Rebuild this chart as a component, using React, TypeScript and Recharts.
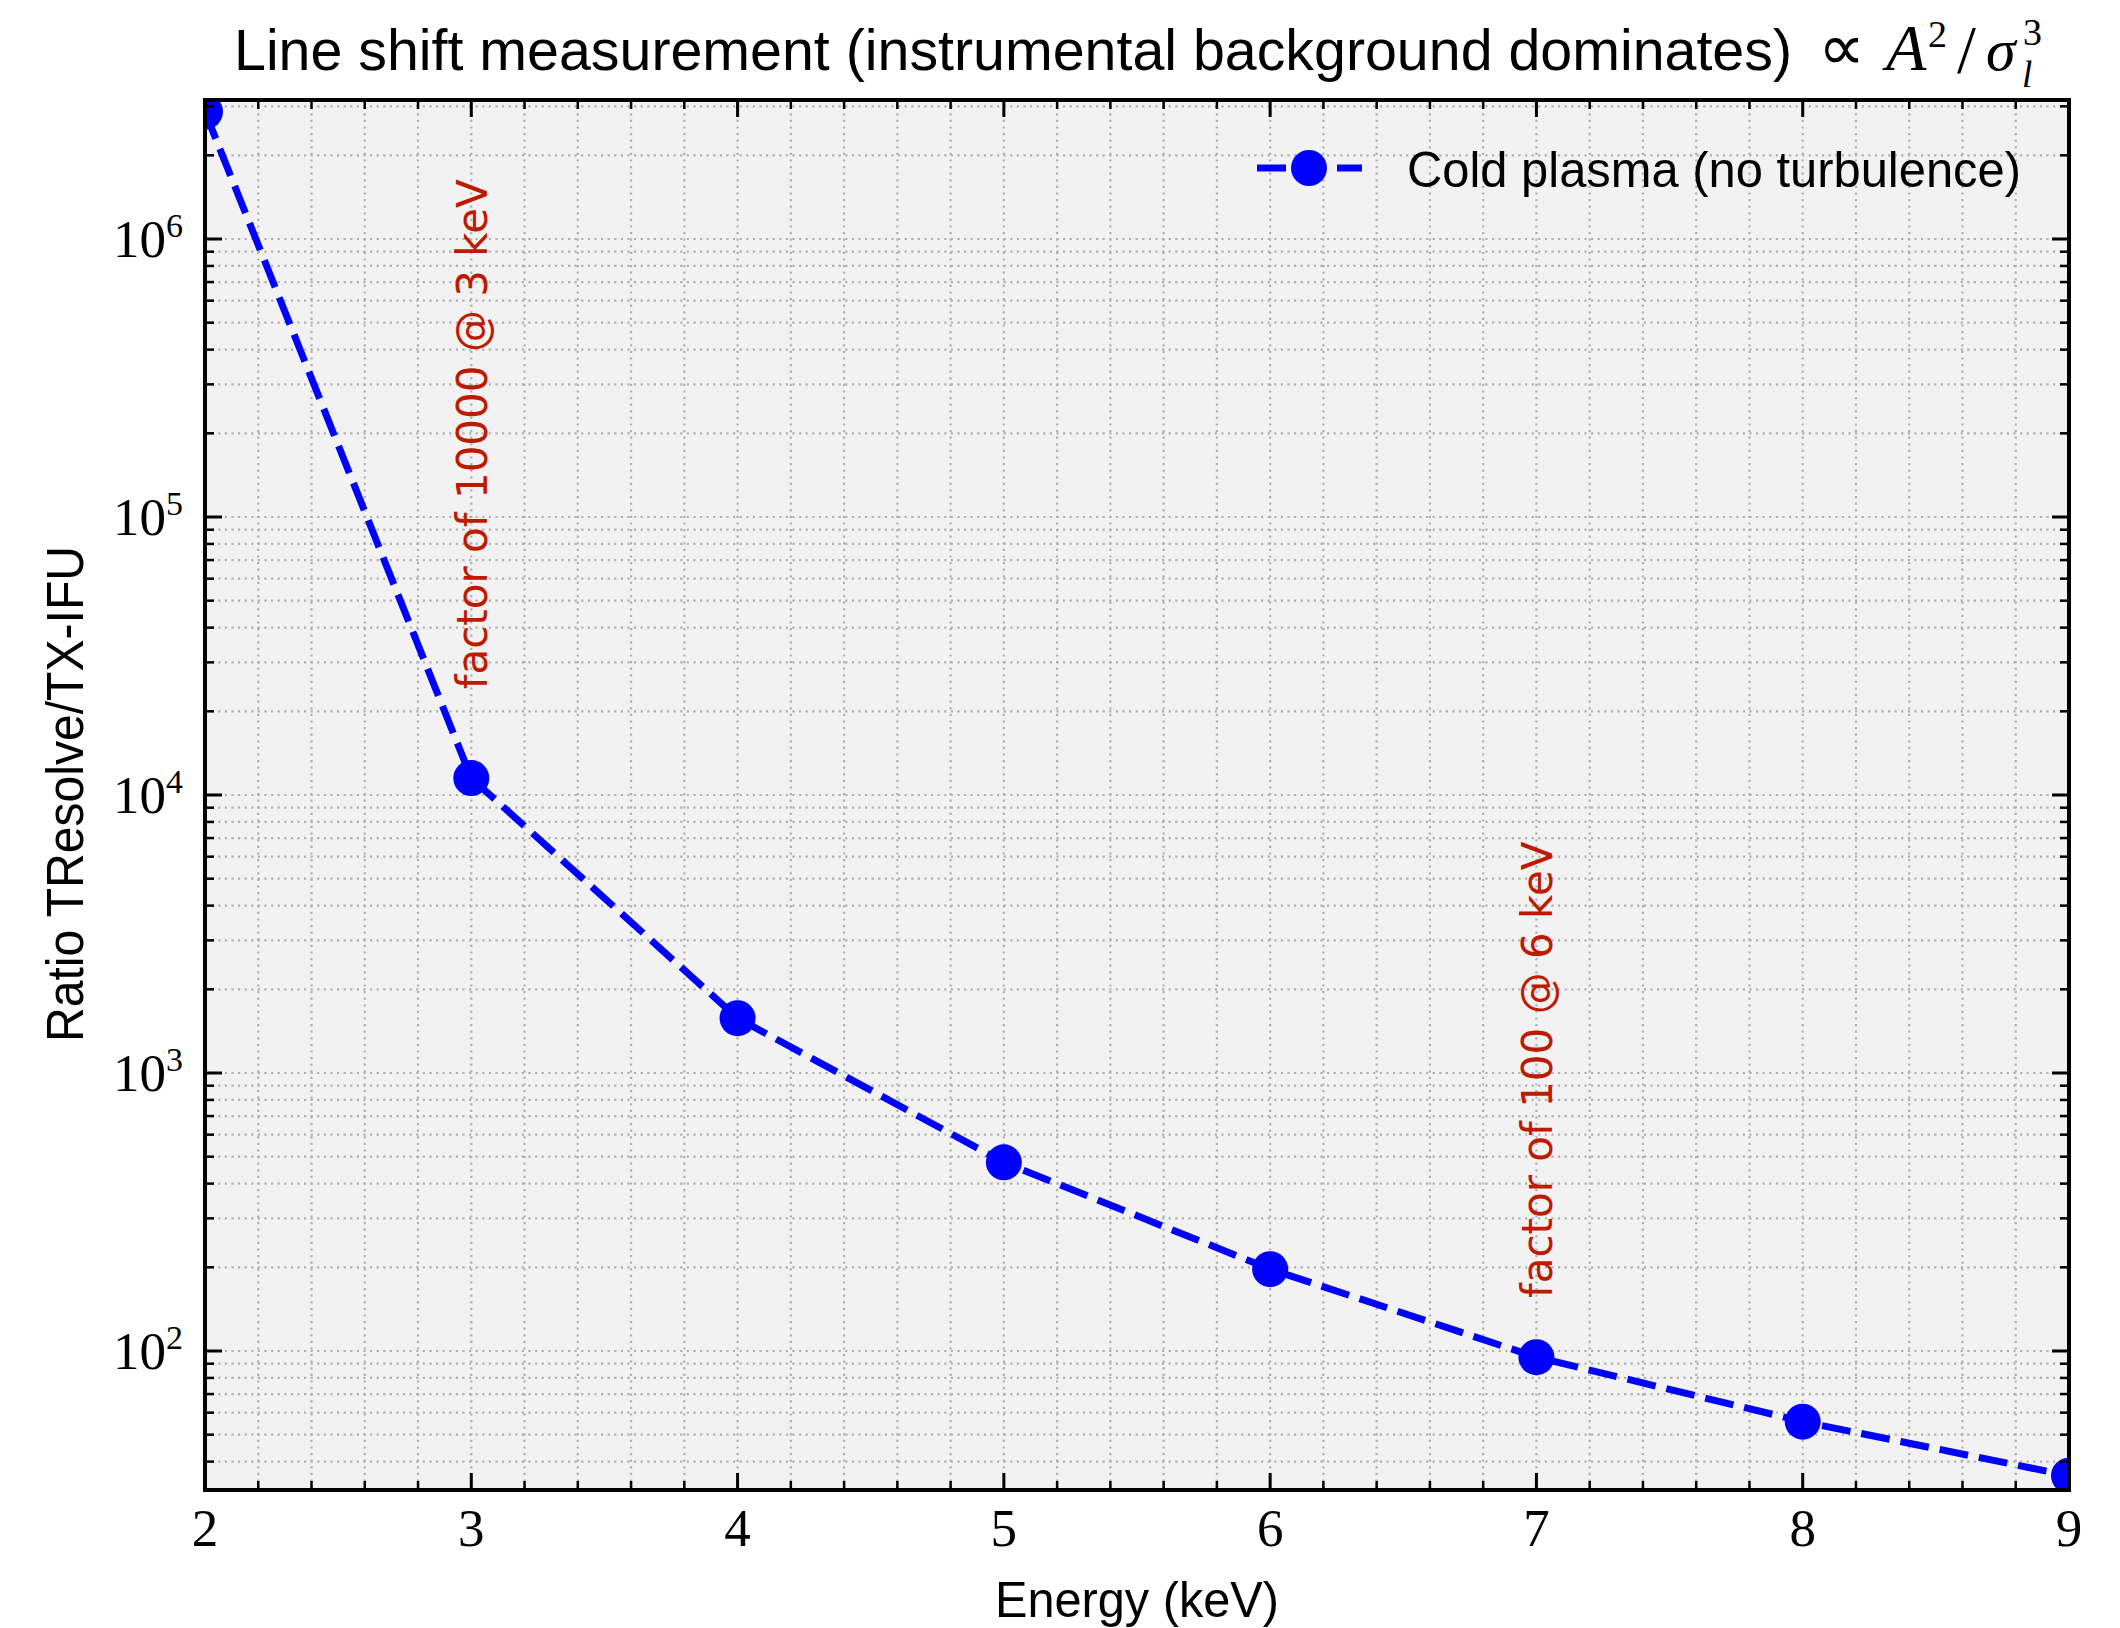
import React from "react"
import { LineChart, Line, XAxis, YAxis, CartesianGrid, Legend, ReferenceDot } from "recharts"

const energies = [2, 3, 4, 5, 6, 7, 8, 9]
const ratios = [2870000, 11500, 1575, 477, 197, 95, 55.7, 35.6]

const xMajorTicks = [2, 3, 4, 5, 6, 7, 8, 9]
const xMinorSteps = [0.2, 0.4, 0.6, 0.8]
const yDecades = [10, 100, 1000, 10000, 100000, 1000000]
const yMinorFactors = [2, 3, 4, 5, 6, 7, 8, 9]
const yDomain = [31.62, 3162278]

const annotations = [
  { x: 3, y: 24000, text: "factor of 10000 @ 3 keV" },
  { x: 7, y: 155, text: "factor of 100 @ 6 keV" },
]

const W = 2120
const H = 1628
const PLOT_LEFT = 205
const PLOT_RIGHT = 2069
const PLOT_TOP = 100
const PLOT_BOTTOM = 1490

const BLUE = "#0000ff"
const RED = "#bf1a00"
const SANS = "Liberation Sans"
const SERIF = "Liberation Serif"

const data = energies.map((e, i) => ({ energy: e, ratio: ratios[i] }))

const xTicks: number[] = []
xMajorTicks.forEach((t) => {
  xTicks.push(t)
  if (t < 9) xMinorSteps.forEach((s) => xTicks.push(Math.round((t + s) * 10) / 10))
})

const yTicks: number[] = []
yDecades.forEach((d) => {
  ;[1, ...yMinorFactors].forEach((f) => {
    const v = d * f
    if (v >= yDomain[0] && v <= yDomain[1]) yTicks.push(v)
  })
})

function XTick(props: any) {
  const { x, payload } = props
  const v = payload.value
  const major = Number.isInteger(v)
  const len = major ? 17 : 9
  const w = major ? 3 : 2.5
  return (
    <g>
      <line x1={x} x2={x} y1={PLOT_BOTTOM} y2={PLOT_BOTTOM - len} stroke="#000" strokeWidth={w} />
      <line x1={x} x2={x} y1={PLOT_TOP} y2={PLOT_TOP + len} stroke="#000" strokeWidth={w} />
      {major && (
        <text x={x} y={PLOT_BOTTOM + 56} textAnchor="middle" fontFamily={SERIF} fontSize={53} fill="#000">
          {v}
        </text>
      )}
    </g>
  )
}

function YTick(props: any) {
  const { y, payload } = props
  const v = payload.value
  const exp = Math.round(Math.log10(v))
  const major = Math.abs(Math.log10(v) - exp) < 1e-6
  const len = major ? 17 : 9
  const w = major ? 3 : 2.5
  return (
    <g>
      <line x1={PLOT_LEFT} x2={PLOT_LEFT + len} y1={y} y2={y} stroke="#000" strokeWidth={w} />
      <line x1={PLOT_RIGHT} x2={PLOT_RIGHT - len} y1={y} y2={y} stroke="#000" strokeWidth={w} />
      {major && (
        <text x={PLOT_LEFT - 22} y={y + 18} textAnchor="end" fontFamily={SERIF} fontSize={53} fill="#000">
          10
          <tspan dy={-20} fontSize={34}>
            {exp}
          </tspan>
        </text>
      )}
    </g>
  )
}

function AnnotationText(text: string) {
  return (props: any) => {
    const bx = props.cx + 16
    const cy = props.cy
    return (
      <text
        x={bx}
        y={cy}
        transform={`rotate(-90 ${bx} ${cy})`}
        fontFamily="DejaVu Sans"
        fontSize={42}
        fill={RED}
      >
        {text}
      </text>
    )
  }
}

function LegendContent() {
  return (
    <svg width={850} height={70}>
      <line x1={17} x2={122} y1={38} y2={38} stroke={BLUE} strokeWidth={7} strokeDasharray="29 11" />
      <circle cx={69} cy={38} r={18} fill={BLUE} />
      <text x={167} y={57} fontFamily={SANS} fontSize={50} textLength={614} lengthAdjust="spacingAndGlyphs" fill="#000">
        Cold plasma (no turbulence)
      </text>
    </svg>
  )
}

export default function App() {
  return (
    <div style={{ position: "relative", width: W, height: H, background: "#fff" }}>
      <style>{"body{margin:0}"}</style>
      <LineChart width={W} height={H} data={data} margin={{ top: PLOT_TOP, right: W - PLOT_RIGHT, bottom: 0, left: 0 }}>
        <CartesianGrid fill="#f2f2f2" stroke="#b0b0b0" strokeWidth={2.2} strokeDasharray="2.2 4.4" />
        <XAxis
          dataKey="energy"
          type="number"
          domain={[2, 9]}
          ticks={xTicks}
          interval={0}
          allowDataOverflow
          height={H - PLOT_BOTTOM}
          axisLine={false}
          tickLine={false}
          tickSize={0}
          tickMargin={0}
          tick={<XTick />}
        />
        <YAxis
          type="number"
          scale="log"
          domain={yDomain}
          ticks={yTicks}
          interval={0}
          allowDataOverflow
          width={PLOT_LEFT}
          axisLine={false}
          tickLine={false}
          tickSize={0}
          tickMargin={0}
          tick={<YTick />}
        />
        <Legend
          layout="horizontal"
          verticalAlign="middle"
          align="center"
          content={<LegendContent />}
          wrapperStyle={{ position: "absolute", left: 1240, top: 130, width: 850, height: 70 }}
        />
        <Line
          type="linear"
          dataKey="ratio"
          name="Cold plasma (no turbulence)"
          stroke={BLUE}
          strokeWidth={7}
          strokeDasharray="29 11"
          dot={{ r: 18, fill: BLUE, stroke: "none", strokeWidth: 0 }}
          activeDot={false}
          isAnimationActive={false}
        />
        {annotations.map((a) => (
          <ReferenceDot key={a.text} x={a.x} y={a.y} r={0} shape={AnnotationText(a.text)} />
        ))}
      </LineChart>
      <svg width={W} height={H} style={{ position: "absolute", left: 0, top: 0, pointerEvents: "none" }}>
        <rect
          x={PLOT_LEFT}
          y={PLOT_TOP}
          width={PLOT_RIGHT - PLOT_LEFT}
          height={PLOT_BOTTOM - PLOT_TOP}
          fill="none"
          stroke="#000"
          strokeWidth={4}
        />
        <text x={234} y={70} fontFamily={SANS} fontSize={57} textLength={1558} lengthAdjust="spacingAndGlyphs" fill="#000">
          Line shift measurement (instrumental background dominates)
        </text>
        <text x={1818} y={70} fontFamily="DejaVu Sans" fontSize={66} fill="#000">
          ∝
        </text>
        <text x={1886} y={70} fontFamily={SERIF} fontStyle="italic" fontSize={66} fill="#000">
          A
        </text>
        <text x={1928} y={47} fontFamily={SERIF} fontSize={38} fill="#000">
          2
        </text>
        <text x={1957} y={72} fontFamily={SERIF} fontSize={68} fill="#000">
          /
        </text>
        <text x={1986} y={70} fontFamily={SERIF} fontStyle="italic" fontSize={60} fill="#000">
          σ
        </text>
        <text x={2023} y={45} fontFamily={SERIF} fontSize={38} fill="#000">
          3
        </text>
        <text x={2022} y={87} fontFamily={SERIF} fontStyle="italic" fontSize={37} fill="#000">
          l
        </text>
        <text
          x={83}
          y={794}
          transform="rotate(-90 83 794)"
          textAnchor="middle"
          fontFamily={SANS}
          fontSize={52}
          textLength={496}
          lengthAdjust="spacingAndGlyphs"
          fill="#000"
        >
          Ratio TResolve/TX-IFU
        </text>
        <text
          x={(PLOT_LEFT + PLOT_RIGHT) / 2}
          y={1617}
          textAnchor="middle"
          fontFamily={SANS}
          fontSize={50}
          textLength={284}
          lengthAdjust="spacingAndGlyphs"
          fill="#000"
        >
          Energy (keV)
        </text>
      </svg>
    </div>
  )
}
